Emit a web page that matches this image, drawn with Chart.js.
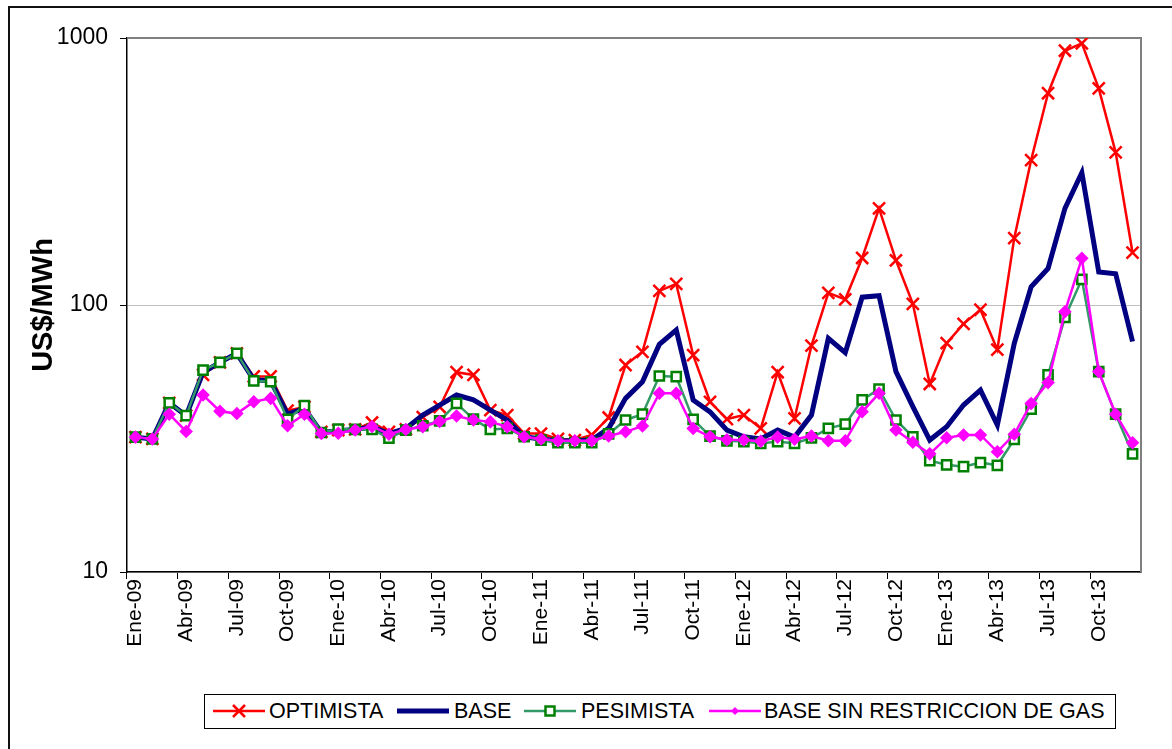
<!DOCTYPE html>
<html>
<head>
<meta charset="utf-8">
<script src="https://cdn.jsdelivr.net/npm/chart.js@4"></script>
<style>
  body { margin: 0; background: #fff; font-family: Arial, "Liberation Sans", sans-serif; }
  #wrap { position: relative; width: 1172px; height: 749px; overflow: hidden; }
  #frame { position: absolute; left: 8px; top: 6px; width: 1200px; height: 800px; border-left: 2px solid #111; border-top: 2px solid #111; }
  #legend { position: absolute; left: 204px; top: 694px; width: 910px; height: 33px; border: 1px solid #000; background: #fff; }
  .item { position: absolute; top: 0; height: 33px; }
  .item svg { position: absolute; top: 6px; }
  .item span { position: absolute; top: 4px; font-size: 21.5px; color: #000; white-space: nowrap; }
</style>
</head>
<body>
<div id="wrap">
  <div id="frame"></div>
  <canvas id="chart"></canvas>
  <div id="legend"></div>
</div>
<script>
// meses y series (US$/MWh)
const months = ['Ene', 'Feb', 'Mar', 'Abr', 'May', 'Jun', 'Jul', 'Ago', 'Sep', 'Oct', 'Nov', 'Dic'];
const years = ['09', '10', '11', '12', '13'];
const categories = [];
years.forEach(y => months.forEach(m => categories.push(m + '-' + y)));

const yTicks = [10, 100, 1000];

const optimista = [
  32, 31.5, 43, 38.5, 54.7, 61, 65.9, 54, 54, 40.2, 41.5, 33.5,
  34, 34.2, 36.3, 33.5, 34.2, 38, 41.5, 56, 54.7, 40.4, 38.7, 33,
  33, 31.5, 31.2, 32.6, 37.9, 59.6, 66.8, 113, 120, 64.9, 43.4, 37.4,
  38.7, 34.5, 56, 37.6, 70.4, 111, 105, 150, 230, 147, 101, 50.6,
  72, 85, 96, 68, 178, 349, 621, 896, 955, 648, 373, 157
];
const base = [
  32, 31.5, 43, 38.5, 56, 61, 65.9, 52.5, 52, 39, 41, 33.3,
  33.8, 34.2, 35, 33, 34.5, 38.7, 42.2, 46, 44.1, 40.4, 37.1, 32.1,
  31.5, 31, 31, 31.2, 34.5, 44.7, 51.6, 71.2, 80.6, 44.1, 39.8, 34,
  32.1, 31.5, 34, 32, 38.7, 75, 66.3, 107, 108.4, 56.3, 41.6, 31.2,
  35, 42.2, 48, 35.5, 71.8, 117, 137, 230, 313, 133, 131, 73
];
const pesimista = [
  32, 31.5, 43, 38.5, 57, 61, 65.9, 52, 51.6, 37.3, 42, 33.3,
  34.3, 34.2, 34.2, 31.7, 34, 35.3, 36.8, 42.8, 37.4, 34.2, 34.5, 32.1,
  31.2, 30.5, 30.5, 30.5, 32.9, 37.1, 39, 54.2, 53.9, 37.3, 32.3, 31,
  30.8, 30.3, 30.8, 30.3, 31.8, 34.5, 35.8, 44.1, 48.4, 37.1, 32.1, 26.1,
  25.2, 24.8, 25.7, 25.1, 31.4, 40.7, 54.7, 89.9, 124.8, 56.3, 39, 27.7
];
const baseSinGas = [
  32, 31.5, 39, 33.6, 46, 40, 39.2, 43.4, 44.7, 35.3, 39, 33,
  33.1, 34, 35.1, 32.8, 34.2, 35, 36.6, 38.4, 37.1, 36.5, 35, 32.1,
  31.5, 31, 31, 31, 32.3, 33.5, 35.2, 46.7, 46.7, 34.5, 32.1, 31.3,
  31.2, 30.9, 32, 31.4, 32.3, 31, 31, 39.8, 46.7, 34, 30.6, 27.7,
  31.8, 32.6, 32.6, 28.2, 32.8, 42.8, 51.2, 94.4, 149.6, 56.3, 39, 30.5
];

const series = [
  { label: 'OPTIMISTA', data: optimista, color: '#ff0000', width: 2.5, point: 'crossRot', radius: 8.5, pointColor: '#ff0000', fill: '#ff0000', order: 3 },
  { label: 'BASE', data: base, color: '#000080', width: 5, point: false, radius: 0, pointColor: '#000080', fill: '#000080', order: 2 },
  { label: 'PESIMISTA', data: pesimista, color: '#339966', width: 2.5, point: 'rect', radius: 6.5, pointColor: '#008000', fill: '#ffffff', order: 1 },
  { label: 'BASE SIN RESTRICCION DE GAS', data: baseSinGas, color: '#ff00ff', width: 2.5, point: 'rectRot', radius: 5, pointColor: '#ff00ff', fill: '#ff00ff', order: 0 }
];

// borde gris arriba y a la derecha del area de trazado
const plotFrame = {
  id: 'plotFrame',
  beforeDatasetsDraw(chart) {
    const a = chart.chartArea;
    const ctx = chart.ctx;
    ctx.save();
    ctx.strokeStyle = '#808080';
    ctx.lineWidth = 2;
    ctx.beginPath();
    ctx.moveTo(a.left, a.top);
    ctx.lineTo(a.right, a.top);
    ctx.lineTo(a.right, a.bottom);
    ctx.stroke();
    ctx.restore();
  }
};

const ctx = document.getElementById('chart').getContext('2d');
new Chart(ctx, {
  type: 'line',
  data: {
    labels: categories,
    datasets: series.map(s => ({
      label: s.label,
      data: s.data,
      borderColor: s.color,
      backgroundColor: s.color,
      borderWidth: s.width,
      tension: 0,
      fill: false,
      order: s.order,
      pointStyle: s.point,
      pointRadius: s.radius,
      pointBorderColor: s.pointColor,
      pointBackgroundColor: s.fill,
      pointBorderWidth: 2.5,
      borderJoinStyle: 'miter'
    }))
  },
  options: {
    responsive: true,
    maintainAspectRatio: false,
    animation: false,
    layout: { padding: { left: 0, right: 31, top: 38, bottom: 0 } },
    plugins: {
      legend: { display: false },
      tooltip: { enabled: false }
    },
    scales: {
      x: {
        type: 'category',
        offset: true,
        afterFit: s => { s.height = 177; },
        border: { color: '#000', width: 1.5 },
        grid: {
          offset: true,
          drawOnChartArea: false,
          drawTicks: true,
          tickLength: 7,
          tickColor: c => (c.index % 3 === 0 ? '#000' : 'rgba(0,0,0,0)'),
          color: 'rgba(0,0,0,0)'
        },
        ticks: {
          autoSkip: false,
          maxRotation: 90,
          minRotation: 90,
          padding: 0,
          color: '#000',
          font: { family: 'Arial, "Liberation Sans", sans-serif', size: 21 },
          callback: (v, i) => (i % 3 === 0 ? categories[i] : '')
        }
      },
      y: {
        type: 'logarithmic',
        min: 10,
        max: 1000,
        afterFit: s => { s.width = 127; },
        afterBuildTicks: s => { s.ticks = yTicks.map(v => ({ value: v })); },
        border: { color: '#000', width: 1.5 },
        grid: {
          color: '#c0c0c0',
          lineWidth: 1,
          tickLength: 7,
          tickColor: '#000'
        },
        ticks: {
          padding: 12,
          color: '#000',
          font: { family: 'Arial, "Liberation Sans", sans-serif', size: 23 },
          callback: v => String(v)
        },
        title: {
          display: true,
          text: 'US$/MWh',
          color: '#000',
          padding: { top: 27, bottom: 0 },
          font: { family: 'Arial, "Liberation Sans", sans-serif', size: 29, weight: 'bold' }
        }
      }
    }
  },
  plugins: [plotFrame]
});

// leyenda con recuadro
const legendPos = [
  { sample: 8, text: 64 },
  { sample: 192, text: 249 },
  { sample: 319, text: 376 },
  { sample: 504, text: 559 }
];
const legend = document.getElementById('legend');
series.forEach((s, i) => {
  const item = document.createElement('div');
  item.className = 'item';
  item.style.left = '0px';
  let marker = '';
  if (s.point === 'crossRot') {
    marker = `<path d="M20,4 L32,16 M32,4 L20,16" stroke="${s.pointColor}" stroke-width="2.5"/>`;
  } else if (s.point === 'rect') {
    marker = `<rect x="21.5" y="5.5" width="9" height="9" fill="#fff" stroke="${s.pointColor}" stroke-width="2.5"/>`;
  } else if (s.point === 'rectRot') {
    marker = `<path d="M26,6 L30,10 L26,14 L22,10 Z" fill="${s.pointColor}"/>`;
  }
  item.innerHTML =
    `<svg width="52" height="20" style="left:${legendPos[i].sample}px">` +
    `<line x1="0" y1="10" x2="52" y2="10" stroke="${s.color}" stroke-width="${s.width}"/>${marker}</svg>` +
    `<span style="left:${legendPos[i].text}px">${s.label}</span>`;
  legend.appendChild(item);
});
</script>
</body>
</html>
